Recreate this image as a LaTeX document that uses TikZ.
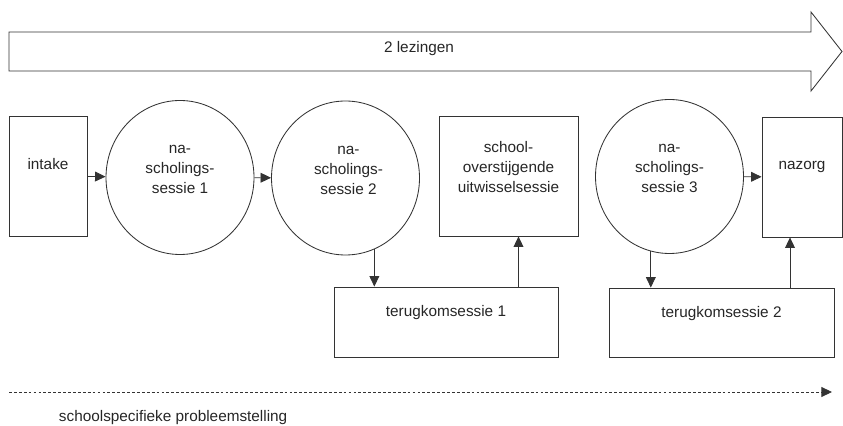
\documentclass[tikz,border=0pt]{standalone}
\usepackage{fontspec}
\setmainfont{Liberation Sans}
\usetikzlibrary{arrows.meta,shapes.geometric}
\newcommand{\px}{0.025cm}

\begin{document}
\begin{tikzpicture}[x=\px, y=-\px,
        font=\fontsize{10.9}{14.2}\selectfont,
        line/.style={draw=black!80, line width=0.6pt},
        box/.style={rectangle, line, inner sep=0pt},
        bol/.style={ellipse, line, inner sep=0pt, minimum width=148*\px, minimum height=154*\px},
        arr/.style={line, -{Triangle[length=7.5pt,width=7pt]}},
        txt/.style={align=center, text=black!85}]
            \useasboundingbox (0,0) rectangle (843,426);

            \draw[line] (9,32) -- (811,32) -- (811,12) -- (842,51.5) -- (811,91) -- (811,71) -- (9,71) -- cycle;
            \node[txt] (lezing) at (419,49) {2 lezingen};

            \node[box, minimum width=78*\px, minimum height=120*\px, label={[txt,yshift=12*\px]center:intake}] (intake) at (48,176) {};
            \node[bol, label={[txt,yshift=8*\px]center:{na-\\scholings-\\sessie 1}}] (c1) at (180,177.5) {};
            \node[bol, label={[txt,xshift=3*\px,yshift=8*\px]center:{na-\\scholings-\\sessie 2}}] (c2) at (345.5,178) {};
            \node[box, minimum width=139*\px, minimum height=120*\px, label={[txt,yshift=9*\px]center:{school-\\overstijgende\\uitwisselsessie}}] (uitw) at (508.5,176) {};
            \node[bol, label={[txt,yshift=8*\px]center:{na-\\scholings-\\sessie 3}}] (c3) at (669.5,176.5) {};
            \node[box, minimum width=80*\px, minimum height=120*\px, label={[txt,yshift=10*\px]center:nazorg}] (nazorg) at (802,177) {};

            \node[box, minimum width=224*\px, minimum height=70*\px, label={[txt,yshift=9*\px]center:terugkomsessie 1}] (t1) at (446,322) {};
            \node[box, minimum width=225*\px, minimum height=69*\px, label={[txt,yshift=9*\px]center:terugkomsessie 2}] (t2) at (721.5,322.5) {};

            \draw[arr] (intake) -- (c1);
            \draw[arr] (c1) -- (c2);
            \draw[arr] (c3) -- (nazorg);

            \coordinate (d2) at (c2.292);
            \draw[arr] (d2) -- (d2 |- t1.north);
            \coordinate (u1) at ([xshift=10*\px]uitw.south);
            \draw[arr] (t1.north -| u1) -- (u1);

            \coordinate (d3) at (c3.256);
            \draw[arr] (d3) -- (d3 |- t2.north);
            \coordinate (u2) at ([xshift=-12*\px]nazorg.south);
            \draw[arr] (t2.north -| u2) -- (u2);

            \coordinate (ds) at (9,392);
            \coordinate (de) at (832,392);
            \draw[arr, dash pattern=on 2pt off 1.5pt] (ds) -- (de);
            \node[txt, anchor=west] (probleem) at (54,418) {schoolspecifieke probleemstelling};
        \end{tikzpicture}
\end{document}
